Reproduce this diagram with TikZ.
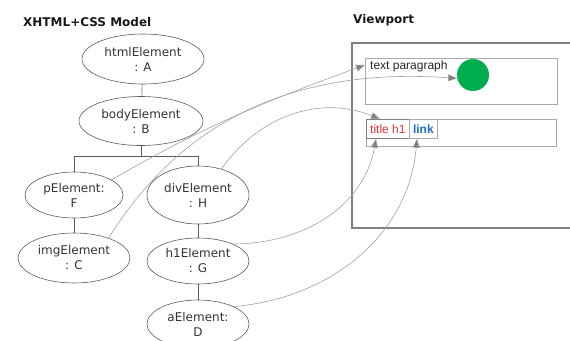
\documentclass[tikz,border=0pt]{standalone}
\usepackage{fontspec}
\setmainfont{DejaVu Sans}
\newfontfamily\arialf{Liberation Sans}
\usetikzlibrary{shapes.geometric,arrows.meta,calc}
\definecolor{elgray}{HTML}{5A5A5A}
\definecolor{lngray}{HTML}{A0A0A0}
\definecolor{argray}{HTML}{808080}
\definecolor{boxgray}{HTML}{AAAAAA}
\definecolor{dotgreen}{HTML}{00AD4E}
\definecolor{titlered}{HTML}{F0303A}
\definecolor{linkblue}{HTML}{1C6FC4}
\tikzset{
  elem/.style={ellipse, draw=elgray, line width=0.6pt, inner sep=0pt, align=center,
    text=black!80, font=\fontsize{12}{15}\selectfont},
  treeline/.style={draw=elgray, line width=0.6pt},
  conn/.style={draw=lngray, line width=0.6pt,
    -{Triangle[length=9pt,width=7pt,fill=argray]}},
  ttl/.style={font=\bfseries\fontsize{12}{14}\selectfont, text=black!90, inner sep=0pt},
  vbox/.style={draw=boxgray, line width=0.8pt, inner sep=0pt},
}
\begin{document}
\begin{tikzpicture}[x=1pt,y=-1pt]
\useasboundingbox (0,0) rectangle (570,340);
% titles
\node[ttl, anchor=west] (t1) at (23,22) {XHTML+CSS Model};
\node[ttl, anchor=west] (t2) at (353,20) {Viewport};
% tree
\node[elem, minimum width=122, minimum height=50] (A) at (143,59) {htmlElement\\: A};
\node[elem, minimum width=124, minimum height=49] (B) at (141,121) {bodyElement\\: B};
\node[elem, minimum width=98, minimum height=46] (F) at (74,195) {pElement:\\F};
\node[elem, minimum width=102, minimum height=58] (H) at (198,195) {divElement\\: H};
\node[elem, minimum width=112, minimum height=50] (C) at (74,258) {imgElement\\: C};
\node[elem, minimum width=102, minimum height=46] (G) at (198,261) {h1Element\\: G};
\node[elem, minimum width=102, minimum height=48] (D) at (198,324) {aElement:\\D};
\coordinate (br) at (141,156);
\draw[treeline] (A) -- (B);
\draw[treeline] (B.south) -- (br);
\draw[treeline] (F.north) -- (F.north |- br) -- (H.north |- br) -- (H.north);
\draw[treeline] (F) -- (C);
\draw[treeline] (H) -- (G);
\draw[treeline] (G) -- (D);
% viewport
\draw[draw=argray, line width=2pt] (580,43) -- (352,43) -- (352,228) -- (580,228);
\node[vbox, minimum width=192, minimum height=46, anchor=north west] (tp) at (365,58) {};
\node[anchor=west, inner sep=0pt, font=\arialf\fontsize{12}{14}\selectfont, text=black!85] (tptext) at (370,66) {text paragraph};
\node[circle, fill=dotgreen, minimum size=32, inner sep=0pt] (gc) at (473,75) {};
\node[vbox, minimum width=190, minimum height=27, anchor=north west] (box2) at (366,119) {};
\node[draw=argray, line width=0.8pt, minimum width=43, minimum height=19, inner sep=0pt, anchor=north west,
  font=\arialf\fontsize{12}{14}\selectfont, text=titlered] (title) at (366,119) {title h1};
\node[draw=boxgray, line width=0.8pt, minimum width=28, minimum height=19, inner sep=0pt, anchor=north west,
  font=\arialf\bfseries\fontsize{12}{14}\selectfont, text=linkblue] (link) at (409,119) {link};
% connectors
\coordinate (tpin) at (365,65);
\draw[conn] (F.22) to[out=30,in=200] (tpin);
\draw[conn] (C.30) to[out=58,in=176] (gc.192);
\draw[conn] (H.48) to[out=55,in=158] ($(title.north west)+(14,0)$);
\draw[conn] (G.26) to[out=0,in=-100] ($(title.south west)+(10,0)$);
\draw[conn] (D.26) to[out=5,in=-95] ($(link.south west)+(8,0)$);
\end{tikzpicture}
\end{document}
